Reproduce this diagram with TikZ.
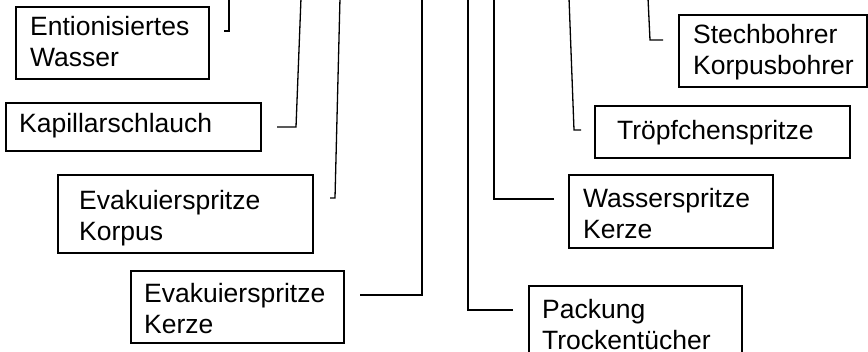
\documentclass[tikz,border=0pt]{standalone}
\usepackage{fontspec}
\setmainfont{Liberation Sans}
\begin{document}
\begin{tikzpicture}[x=1pt,y=-1pt,
  box/.style={draw=black,line width=1.3pt,rectangle,inner sep=0pt,outer sep=0pt,anchor=north west},
  lbl/.style={anchor=base west,inner sep=0pt,align=left,font=\fontsize{26.5}{31}\selectfont},
  conn/.style={draw=black,line width=1.3pt}]
\useasboundingbox (0,0) rectangle (868,352);
% boxes
\node[box,minimum width=193pt,minimum height=72pt] (b1) at (16,7) {};
\node[box,minimum width=255pt,minimum height=48pt] (b2) at (6,103) {};
\node[box,minimum width=255pt,minimum height=78pt] (b3) at (58,175) {};
\node[box,minimum width=213pt,minimum height=72pt] (b4) at (131,271) {};
\node[box,minimum width=213pt,minimum height=72pt] (b5) at (529,286) {};
\node[box,minimum width=204pt,minimum height=73pt] (b6) at (569,175) {};
\node[box,minimum width=255pt,minimum height=52pt] (b7) at (595,106) {};
\node[box,minimum width=188pt,minimum height=72pt] (b8) at (679,15) {};
% texts (base = baseline of last line)
\node[lbl] (t1) at (30,67) {Entionisiertes\\Wasser};
\node[lbl] (t2) at (19,133) {Kapillarschlauch};
\node[lbl] (t3) at (79,241) {Evakuierspritze\\Korpus};
\node[lbl] (t4) at (144,334) {Evakuierspritze\\Kerze};
\node[lbl] (t5) at (542,350) {Packung\\Trockentücher};
\node[lbl] (t6) at (583,239) {Wasserspritze\\Kerze};
\node[lbl] (t7) at (617,140) {Tröpfchenspritze};
\node[lbl] (t8) at (693,75) {Stechbohrer\\Korpusbohrer};
% connector ends
\coordinate (c1a) at (224,31);  \coordinate (c1b) at (229,31);  \coordinate (c1c) at (229,-2);
\coordinate (c2a) at (277,127); \coordinate (c2b) at (296,127); \coordinate (c2c) at (301,-2);
\coordinate (c3a) at (330,198); \coordinate (c3b) at (335,198); \coordinate (c3c) at (340,-2);
\coordinate (c4a) at (360,295); \coordinate (c4b) at (422,295); \coordinate (c4c) at (422,-2);
\coordinate (c5a) at (513,310); \coordinate (c5b) at (468,310); \coordinate (c5c) at (468,-2);
\coordinate (c6a) at (554,199); \coordinate (c6b) at (494,199); \coordinate (c6c) at (494,-2);
\coordinate (c7a) at (581,130); \coordinate (c7b) at (574,130); \coordinate (c7c) at (569,-2);
\coordinate (c8a) at (663,40);  \coordinate (c8b) at (650,40);  \coordinate (c8c) at (648,-2);
\foreach \i in {1,...,8}{\draw[conn] (c\i a) -- (c\i b) -- (c\i c);}
\end{tikzpicture}
\end{document}
